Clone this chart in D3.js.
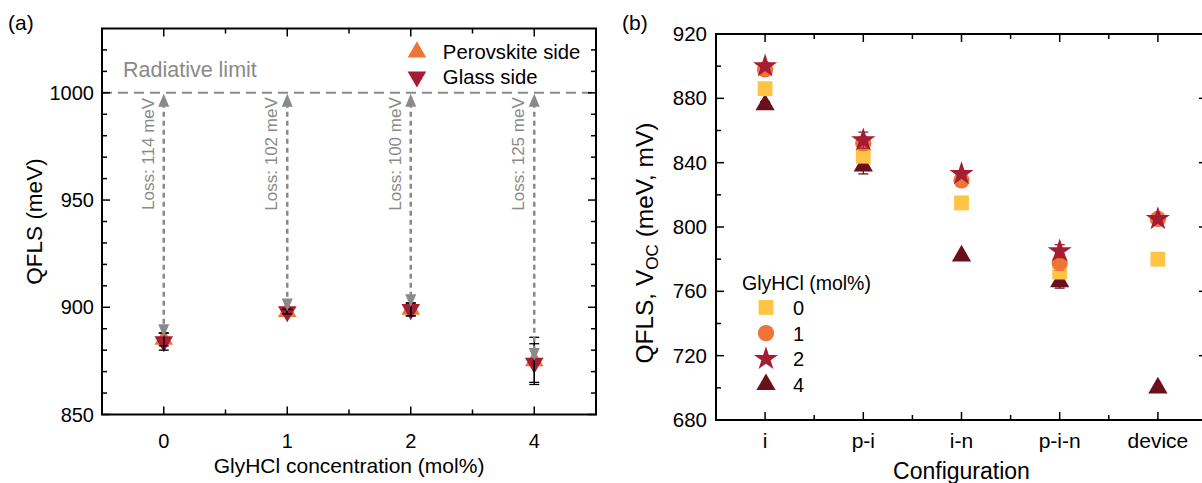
<!DOCTYPE html>
<html><head><meta charset="utf-8">
<script src="https://cdn.jsdelivr.net/npm/d3@7"></script>
<style>
html,body{margin:0;padding:0;background:#fff;}
svg{display:block;font-family:"Liberation Sans",Arial,sans-serif;}
</style></head>
<body><svg id="c" width="1202" height="483"></svg>
<script>
// ---------- data: panel (a) ----------
const concLabels = ["0", "1", "2", "4"];
const perovskiteSide = [885, 898, 899, 875];
const perovskiteErr = [3, 1, 3, 11];
const glassSide = [884, 898, 899, 874];
const glassErr = [4, 1, 3, 9];
const radiativeLimit = 1000;
const losses = [114, 102, 100, 125];
const aYTicks = [850, 900, 950, 1000];

// ---------- data: panel (b) ----------
const configs = ["i", "p-i", "i-n", "p-i-n", "device"];
const glyLevels = ["0", "1", "2", "4"];
const gly0 = [886, 844, 815, 772, 780];
const gly1 = [898, 852, 829, 778, 805];
const gly2 = [900, 854, 833, 785, 805];
const gly4 = [876, 838, 782, 766, 700];
const gly0Err = [0, 3, 0, 4, 0];
const gly1Err = [1, 4, 0, 5, 1];
const gly2Err = [1, 5, 0, 4, 1];
const gly4Err = [2, 5, 0, 4, 0];
const bYTicks = [680, 720, 760, 800, 840, 880, 920];

const C_YEL = "#FDC543", C_ORA = "#EE7437", C_RED = "#A51C34", C_DRK = "#6B0F1A", GRAY = "#8a8a8a";

const svg = d3.select("#c");

function frame(g, x, y, xMajor, xMinor, yMajor, yMinor) {
  const [x0, x1] = x.range(), [y0, y1] = y.range();
  const L = 8, l = 5;
  const t = g.append("g").attr("stroke", "#000").attr("stroke-width", 1.5);
  xMajor.forEach(v => {
    t.append("line").attr("x1", x(v)).attr("x2", x(v)).attr("y1", y0).attr("y2", y0 - L);
    t.append("line").attr("x1", x(v)).attr("x2", x(v)).attr("y1", y1).attr("y2", y1 + L);
  });
  xMinor.forEach(v => {
    t.append("line").attr("x1", x(v)).attr("x2", x(v)).attr("y1", y0).attr("y2", y0 - l);
    t.append("line").attr("x1", x(v)).attr("x2", x(v)).attr("y1", y1).attr("y2", y1 + l);
  });
  yMajor.forEach(v => {
    t.append("line").attr("x1", x0).attr("x2", x0 + L).attr("y1", y(v)).attr("y2", y(v));
    t.append("line").attr("x1", x1).attr("x2", x1 - L).attr("y1", y(v)).attr("y2", y(v));
  });
  yMinor.forEach(v => {
    t.append("line").attr("x1", x0).attr("x2", x0 + l).attr("y1", y(v)).attr("y2", y(v));
    t.append("line").attr("x1", x1).attr("x2", x1 - l).attr("y1", y(v)).attr("y2", y(v));
  });
  g.append("rect").attr("x", x0).attr("y", y1).attr("width", x1 - x0).attr("height", y0 - y1)
    .attr("fill", "none").attr("stroke", "#000").attr("stroke-width", 2);
}

// ================= Panel (a) =================
const ax = d3.scaleLinear().domain([-0.5, 3.5]).range([102, 596]);
const ay = d3.scaleLinear().domain([850, 1030]).range([414.5, 28.5]);
const ga = svg.append("g");
const aIdx = concLabels.map((d, i) => i);

// radiative limit line
ga.append("line").attr("x1", ax(-0.5)).attr("x2", ax(3.5))
  .attr("y1", ay(radiativeLimit)).attr("y2", ay(radiativeLimit))
  .attr("stroke", GRAY).attr("stroke-width", 2).attr("stroke-dasharray", "10,6");
ga.append("text").attr("x", ax(-0.33)).attr("y", ay(1007.5)).attr("fill", GRAY)
  .attr("font-size", 21.5).text("Radiative limit");

// error bars
function errBar(g, xp, yv, e, color, cap) {
  if (!e) return;
  g.append("line").attr("x1", xp).attr("x2", xp).attr("y1", yv[0]).attr("y2", yv[1]).attr("stroke", color).attr("stroke-width", 1.3);
  yv.forEach(yy => g.append("line").attr("x1", xp - cap).attr("x2", xp + cap).attr("y1", yy).attr("y2", yy).attr("stroke", color).attr("stroke-width", 1.3));
}
const triUp = d3.symbol().type(d3.symbolTriangle).size(150)();
aIdx.forEach(i => {
  ga.append("path").attr("d", triUp).attr("fill", C_ORA)
    .attr("transform", `translate(${ax(i)},${ay(perovskiteSide[i])})`);
});
aIdx.forEach(i => {
  ga.append("path").attr("d", triUp).attr("fill", C_RED)
    .attr("transform", `translate(${ax(i)},${ay(glassSide[i])}) rotate(180)`);
});
aIdx.forEach(i => {
  errBar(ga, ax(i), [ay(perovskiteSide[i] + perovskiteErr[i]), ay(perovskiteSide[i] - perovskiteErr[i])], perovskiteErr[i], "#000", 5);
  errBar(ga, ax(i), [ay(glassSide[i] + glassErr[i]), ay(glassSide[i] - glassErr[i])], glassErr[i], "#000", 5);
});

// loss arrows
aIdx.forEach(i => {
  const xp = ax(i), yTop = ay(radiativeLimit), yBot = ay(radiativeLimit - losses[i]);
  ga.append("line").attr("x1", xp).attr("x2", xp).attr("y1", yTop + 10).attr("y2", yBot - 10)
    .attr("stroke", GRAY).attr("stroke-width", 2.5).attr("stroke-dasharray", "5,4");
  ga.append("path").attr("fill", GRAY)
    .attr("d", `M${xp},${yTop + 1} L${xp - 5.5},${yTop + 14} L${xp + 5.5},${yTop + 14} Z`);
  ga.append("path").attr("fill", GRAY)
    .attr("d", `M${xp},${yBot} L${xp - 5.5},${yBot - 13} L${xp + 5.5},${yBot - 13} Z`);
  ga.append("text").attr("transform", `translate(${xp - 10},${ay(971.5)}) rotate(-90)`)
    .attr("text-anchor", "middle").attr("fill", GRAY).attr("font-size", 17)
    .text(`Loss: ${losses[i]} meV`);
});

frame(ga, ax, ay, aIdx, [0.5, 1.5, 2.5], aYTicks, d3.range(860, 1030, 10).filter(v => v % 50));

// tick labels
aIdx.forEach(i => ga.append("text").attr("x", ax(i)).attr("y", ay(850) + 33).attr("text-anchor", "middle")
  .attr("font-size", 20).text(concLabels[i]));
aYTicks.forEach(v => ga.append("text").attr("x", ax(-0.5) - 8).attr("y", ay(v) + 7).attr("text-anchor", "end")
  .attr("font-size", 20).text(v));
ga.append("text").attr("x", ax(1.5)).attr("y", 473).attr("text-anchor", "middle").attr("font-size", 21)
  .text("GlyHCl concentration (mol%)");
ga.append("text").attr("transform", `translate(42,${ay(940)}) rotate(-90)`).attr("text-anchor", "middle")
  .attr("font-size", 22.5).text("QFLS (meV)");
ga.append("text").attr("x", 8).attr("y", 30).attr("font-size", 21).text("(a)");

// legend (a)
ga.append("path").attr("d", triUp).attr("fill", C_ORA).attr("transform", `translate(${ax(2.05)},${ay(1019)})`);
ga.append("text").attr("x", ax(2.26)).attr("y", ay(1019) + 7).attr("font-size", 20.3).text("Perovskite side");
ga.append("path").attr("d", triUp).attr("fill", C_RED).attr("transform", `translate(${ax(2.05)},${ay(1007.5)}) rotate(180)`);
ga.append("text").attr("x", ax(2.26)).attr("y", ay(1007.5) + 7).attr("font-size", 20.3).text("Glass side");

// ================= Panel (b) =================
const bx = d3.scaleLinear().domain([-0.5, 4.5]).range([716, 1207]);
const by = d3.scaleLinear().domain([680, 920]).range([420, 34]);
const gb = svg.append("g");
const bIdx = configs.map((d, i) => i);

const series = [
  { vals: gly0, err: gly0Err, color: C_YEL, sym: d3.symbolSquare, size: 220 },
  { vals: gly1, err: gly1Err, color: C_ORA, sym: d3.symbolCircle, size: 210 },
  { vals: gly2, err: gly2Err, color: C_RED, sym: d3.symbolStar, size: 180 },
  { vals: gly4, err: gly4Err, color: C_DRK, sym: d3.symbolTriangle, size: 160 }
];
// draw order: triangle, square, circle, star
[3, 0, 1, 2].forEach(si => {
  const s = series[si];
  const p = d3.symbol().type(s.sym).size(s.size)();
  bIdx.forEach(i => {
    gb.append("path").attr("d", p).attr("fill", s.color)
      .attr("transform", `translate(${bx(i)},${by(s.vals[i])})`);
    errBar(gb, bx(i), [by(s.vals[i] + s.err[i]), by(s.vals[i] - s.err[i])], s.err[i], s.color, 5);
  });
});

frame(gb, bx, by, bIdx, [0.5, 1.5, 2.5, 3.5], bYTicks, d3.range(700, 920, 40));

bIdx.forEach(i => gb.append("text").attr("x", bx(i)).attr("y", by(680) + 28).attr("text-anchor", "middle")
  .attr("font-size", 21).text(configs[i]));
bYTicks.forEach(v => gb.append("text").attr("x", bx(-0.5) - 9).attr("y", by(v) + 7).attr("text-anchor", "end")
  .attr("font-size", 20.5).text(v));
gb.append("text").attr("x", bx(2)).attr("y", 479).attr("text-anchor", "middle").attr("font-size", 23)
  .text("Configuration");
const yl = gb.append("text").attr("transform", `translate(653,${by(790)}) rotate(-90)`).attr("text-anchor", "middle")
  .attr("font-size", 24.5);
yl.append("tspan").text("QFLS, ");
yl.append("tspan").text("V");
yl.append("tspan").attr("font-size", 17).attr("dy", 5).text("OC");
yl.append("tspan").attr("dy", -5).text(" (meV, mV)");
gb.append("text").attr("x", 622).attr("y", 30).attr("font-size", 21).text("(b)");

// legend (b)
gb.append("text").attr("x", 742).attr("y", by(761)).attr("font-size", 19.5).text("GlyHCl (mol%)");
series.forEach((s, k) => {
  const yy = by(750) + k * 25.7;
  gb.append("path").attr("d", d3.symbol().type(s.sym).size(s.size)()).attr("fill", s.color)
    .attr("transform", `translate(766,${yy})`);
  gb.append("text").attr("x", 793).attr("y", yy + 7.5).attr("font-size", 20).text(glyLevels[k]);
});
</script></body></html>
